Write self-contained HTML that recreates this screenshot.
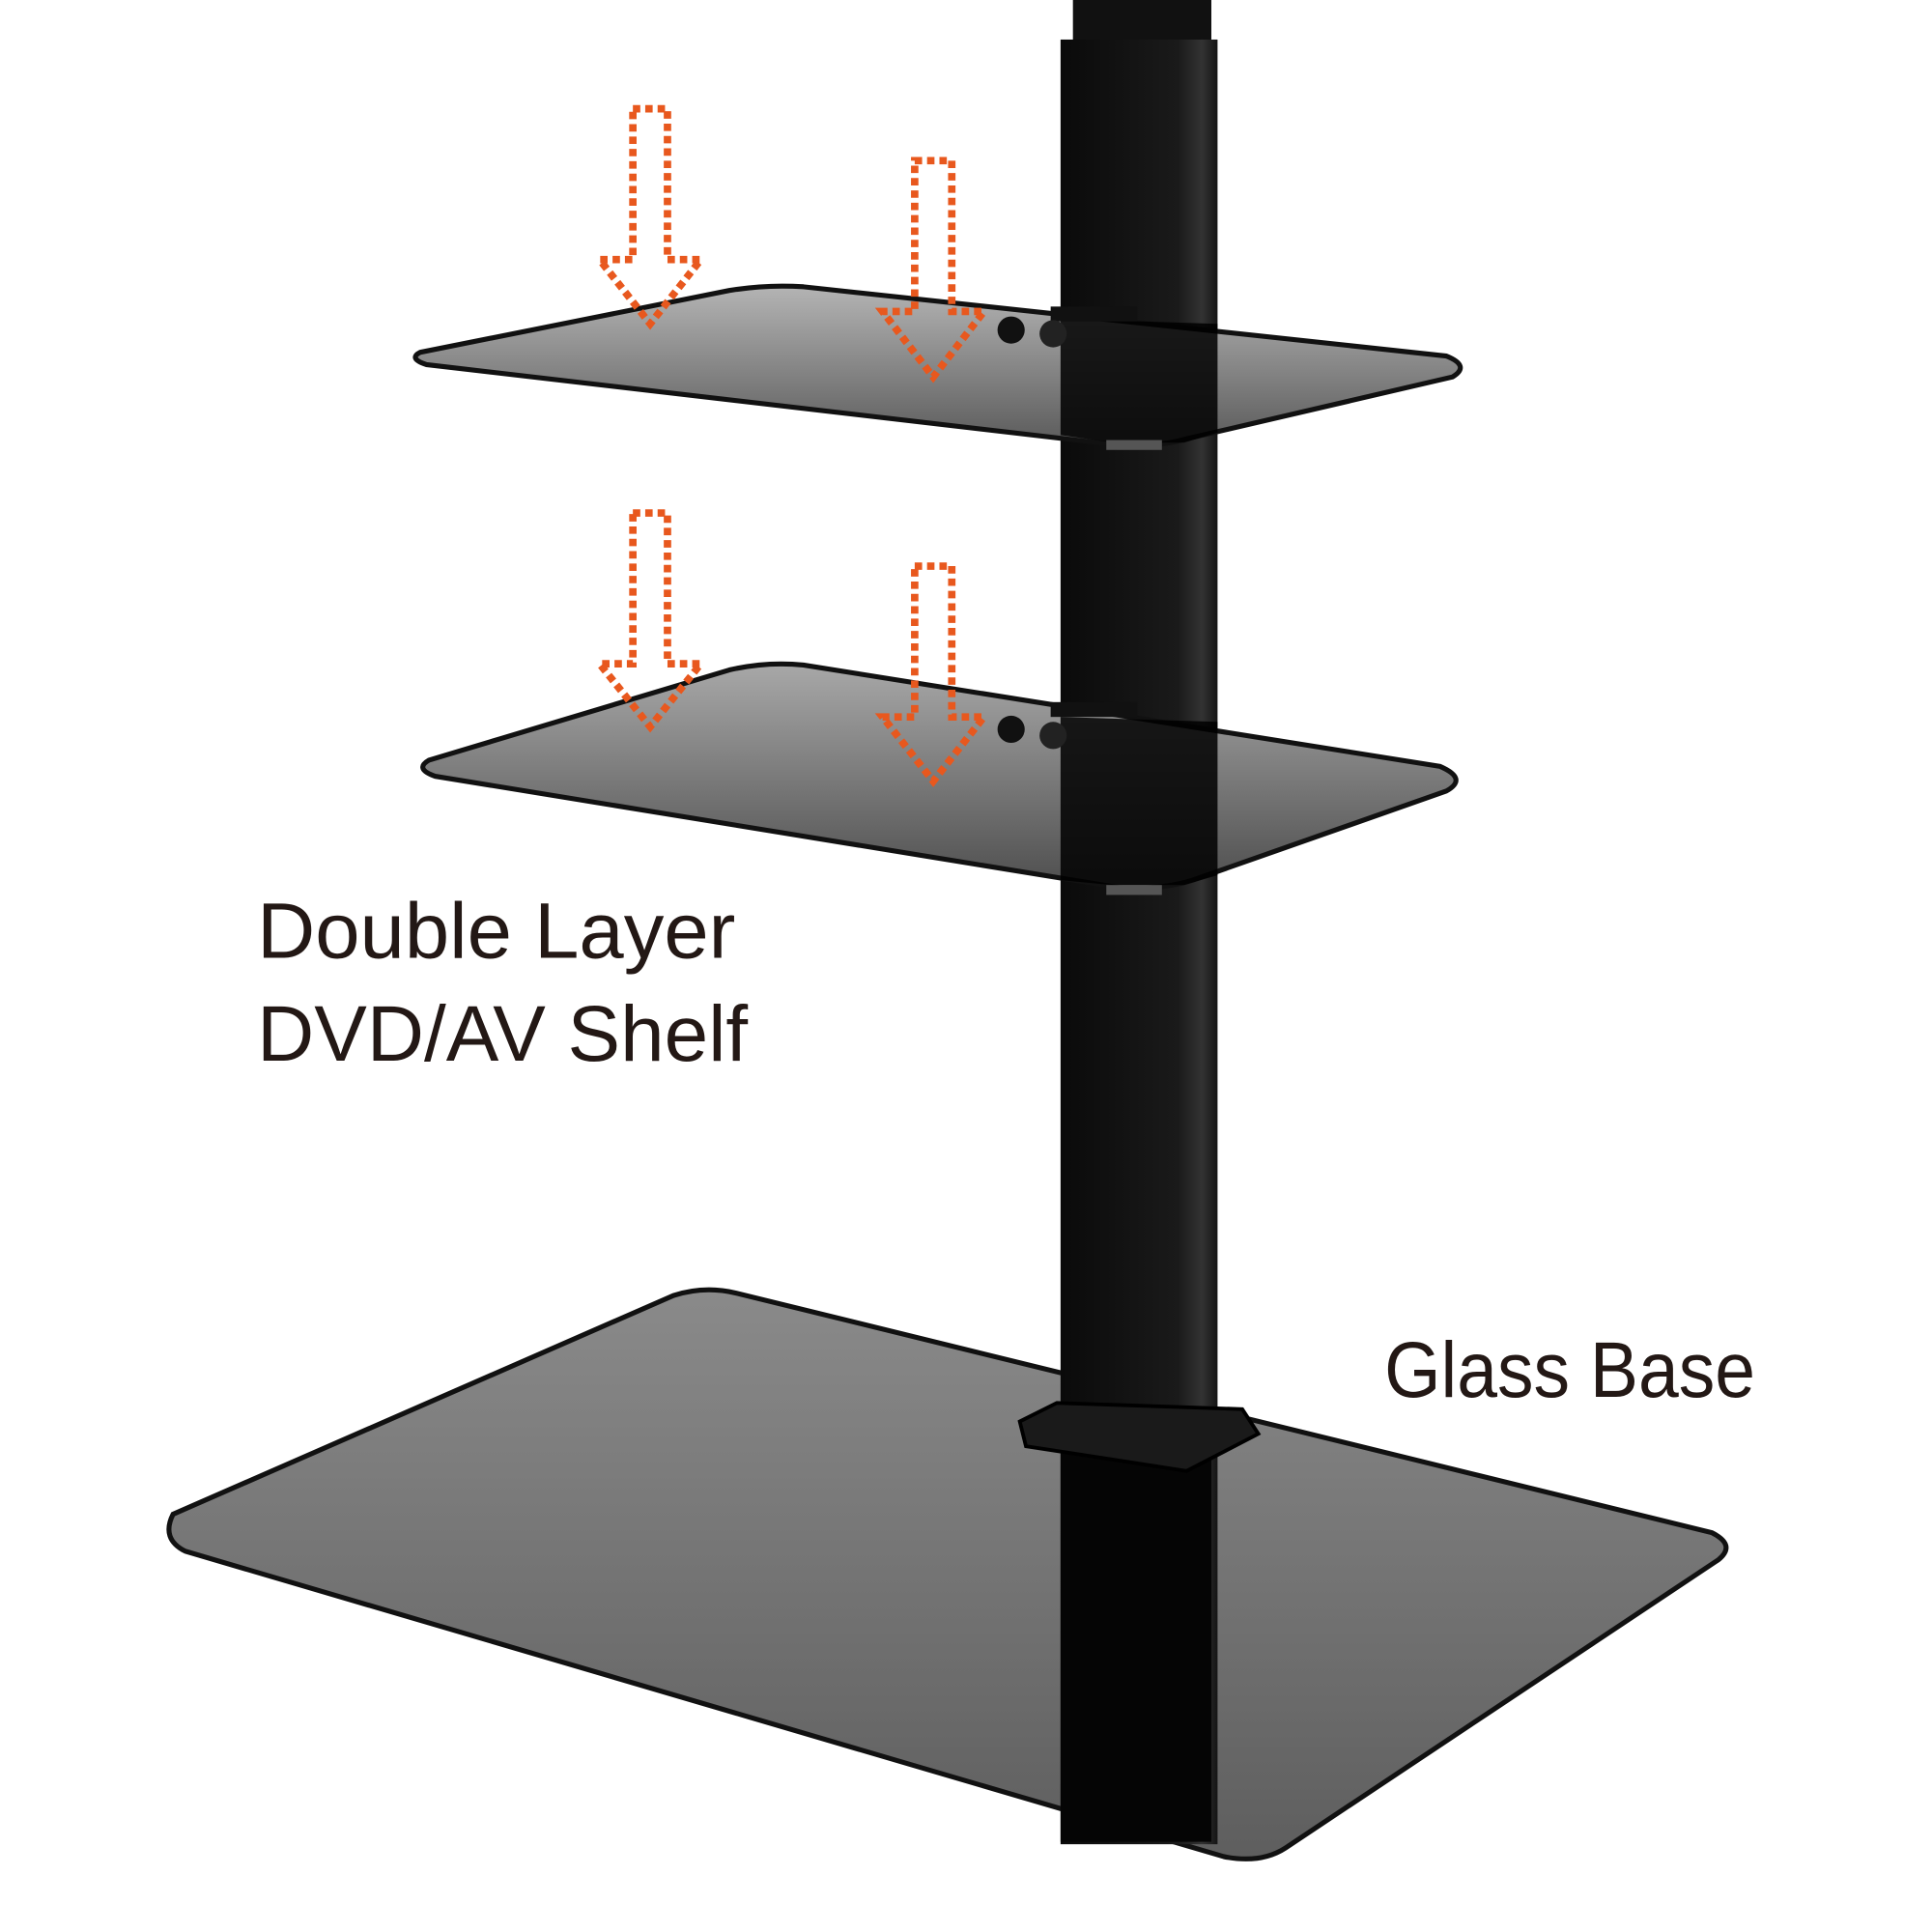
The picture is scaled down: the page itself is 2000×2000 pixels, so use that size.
<!DOCTYPE html>
<html><head><meta charset="utf-8"><style>html,body{margin:0;padding:0;background:#fff}svg{display:block}</style></head><body>
<svg width="2000" height="2000" viewBox="0 0 1563 1563" xmlns="http://www.w3.org/2000/svg">
<defs>
<linearGradient id="sh1" x1="0" y1="0" x2="0" y2="1"><stop offset="0" stop-color="#b4b4b4"/><stop offset="1" stop-color="#5a5a5a"/></linearGradient>
<linearGradient id="sh2" x1="0" y1="0" x2="0" y2="1"><stop offset="0" stop-color="#a8a8a8"/><stop offset="1" stop-color="#4e4e4e"/></linearGradient>
<linearGradient id="bs" x1="0" y1="0" x2="0" y2="1"><stop offset="0" stop-color="#8a8a8a"/><stop offset="1" stop-color="#5e5e5e"/></linearGradient>
<linearGradient id="pole" x1="0" y1="0" x2="1" y2="0"><stop offset="0" stop-color="#0a0a0a"/><stop offset="0.75" stop-color="#1a1a1a"/><stop offset="0.9" stop-color="#333"/><stop offset="1" stop-color="#151515"/></linearGradient>
</defs>
<path d="M140 1225 L545 1048 Q570 1040 595 1046 L1385 1240 Q1405 1250 1390 1262 L1040 1495 Q1020 1508 990 1502 L150 1255 Q130 1245 140 1225 Z" fill="url(#bs)" stroke="#111" stroke-width="4"/>
<rect x="868" y="0" width="112" height="40" fill="#111"/>
<rect x="858" y="32" width="127" height="1460" fill="url(#pole)"/>
<rect x="858" y="1170" width="122" height="320" fill="#050505"/>
<path d="M825 1150 L855 1135 L1005 1140 L1018 1160 L960 1190 L830 1170 Z" fill="#1a1a1a" stroke="#000" stroke-width="3"/>
<path d="M340 285 L590 235 Q620 230 650 232 L1170 288 Q1190 296 1175 305 L960 355 Q935 362 905 360 L345 295 Q330 290 340 285 Z" fill="url(#sh1)" stroke="#111" stroke-width="4"/>
<path d="M858 258 L985 262 L985 350 L958 358 L900 358 L858 352 Z" fill="#000" opacity="0.85"/>
<rect x="850" y="248" width="70" height="12" fill="#111"/>
<circle cx="818" cy="267" r="11" fill="#111"/><circle cx="852" cy="270" r="11" fill="#222"/>
<rect x="895" y="356" width="45" height="8" fill="#555"/>
<path d="M347 615 L590 542 Q620 535 650 538 L1165 620 Q1188 630 1170 640 L965 712 Q940 720 905 718 L352 628 Q335 622 347 615 Z" fill="url(#sh2)" stroke="#111" stroke-width="4"/>
<path d="M858 580 L985 584 L985 708 L958 716 L900 716 L858 712 Z" fill="#000" opacity="0.85"/>
<rect x="850" y="568" width="70" height="12" fill="#111"/>
<circle cx="818" cy="590" r="11" fill="#111"/><circle cx="852" cy="595" r="11" fill="#222"/>
<rect x="895" y="716" width="45" height="8" fill="#555"/>
<g fill="none" stroke="#e8581e" stroke-width="6" stroke-dasharray="6 4">
<path d="M512 88 L540 88 L540 210 L567 210 L526 262 L485 210 L512 210 Z"/>
<path d="M740 130 L770 130 L770 252 L796 252 L755 305 L714 252 L740 252 Z"/>
<path d="M512 415 L540 415 L540 537 L567 537 L526 588 L485 537 L512 537 Z"/>
<path d="M740 458 L770 458 L770 580 L796 580 L755 632 L714 580 L740 580 Z"/>
</g>
<g font-family="Liberation Sans, sans-serif" font-size="64" fill="#231815">
<text x="208" y="775" textLength="387" lengthAdjust="spacingAndGlyphs">Double Layer</text>
<text x="208" y="858" textLength="397" lengthAdjust="spacingAndGlyphs">DVD/AV Shelf</text>
<text x="1120" y="1130" textLength="300" lengthAdjust="spacingAndGlyphs">Glass Base</text>
</g>
</svg>
</body></html>
